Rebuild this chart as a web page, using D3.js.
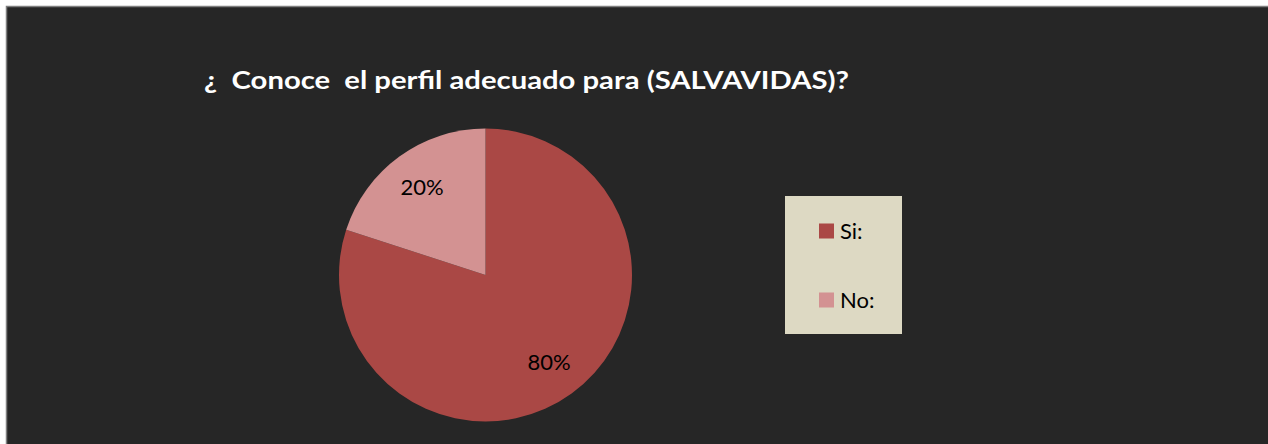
<!DOCTYPE html>
<html>
<head>
<meta charset="utf-8">
<script src="https://cdn.jsdelivr.net/npm/d3@7"></script>
<style>
  html, body { margin: 0; padding: 0; background: #ffffff; }
  svg { display: block; }
</style>
</head>
<body>
<div id="chart"></div>
<script>
// Chart data
const categories = ['Si:', 'No:'];
const values = [80, 20];
const sliceLabels = ['80%', '20%'];
const colors = ['#AA4845', '#D39292'];
const title = '\u00BF  Conoce  el perfil adecuado para (SALVAVIDAS)?';

const width = 1268, height = 444;
const fontFamily = 'Lato, "Open Sans", "Noto Sans", sans-serif';

const svg = d3.select('#chart')
    .append('svg')
    .attr('width', width)
    .attr('height', height);

// Chart area background and border
svg.append('rect')
    .attr('x', 6.5).attr('y', 6.5)
    .attr('width', width).attr('height', height)
    .attr('fill', '#262626')
    .attr('stroke', '#7f7f7f')
    .attr('stroke-width', 1.5);

// Title
svg.append('text')
    .attr('x', 204)
    .attr('y', 89)
    .attr('fill', '#ffffff')
    .attr('font-family', fontFamily)
    .attr('font-weight', 'bold')
    .attr('font-size', '25px')
    .attr('textLength', 645)
    .attr('lengthAdjust', 'spacingAndGlyphs')
    .attr('xml:space', 'preserve')
    .style('white-space', 'pre')
    .text(title);

// Pie
const cx = 485.5, cy = 275, radius = 146.5;
const pie = d3.pie().sort(null).value(d => d);
const arcs = pie(values);
const arc = d3.arc().innerRadius(0).outerRadius(radius);
const labelArc = d3.arc().innerRadius(108).outerRadius(108);

const g = svg.append('g').attr('transform', `translate(${cx},${cy})`);

g.selectAll('path')
    .data(arcs)
    .enter().append('path')
    .attr('d', arc)
    .attr('fill', (d, i) => colors[i]);

g.selectAll('text')
    .data(arcs)
    .enter().append('text')
    .attr('transform', d => `translate(${labelArc.centroid(d)})`)
    .attr('text-anchor', 'middle')
    .attr('dy', '0.35em')
    .attr('font-family', fontFamily)
    .attr('font-size', '22px')
    .attr('fill', '#000000')
    .text((d, i) => sliceLabels[i]);

// Legend
const legend = svg.append('g').attr('transform', 'translate(785,196)');
legend.append('rect')
    .attr('width', 117).attr('height', 138)
    .attr('fill', '#DDD9C3');

const legendY = d3.scalePoint().domain(categories).range([35, 104]);

const item = legend.selectAll('g.item')
    .data(categories)
    .enter().append('g')
    .attr('class', 'item')
    .attr('transform', d => `translate(34,${legendY(d)})`);

item.append('rect')
    .attr('x', 0).attr('y', -7.5)
    .attr('width', 15).attr('height', 15)
    .attr('fill', (d, i) => colors[i]);

item.append('text')
    .attr('x', 21)
    .attr('dy', '0.36em')
    .attr('font-family', fontFamily)
    .attr('font-size', '22px')
    .attr('fill', '#000000')
    .text(d => d);
</script>
</body>
</html>
